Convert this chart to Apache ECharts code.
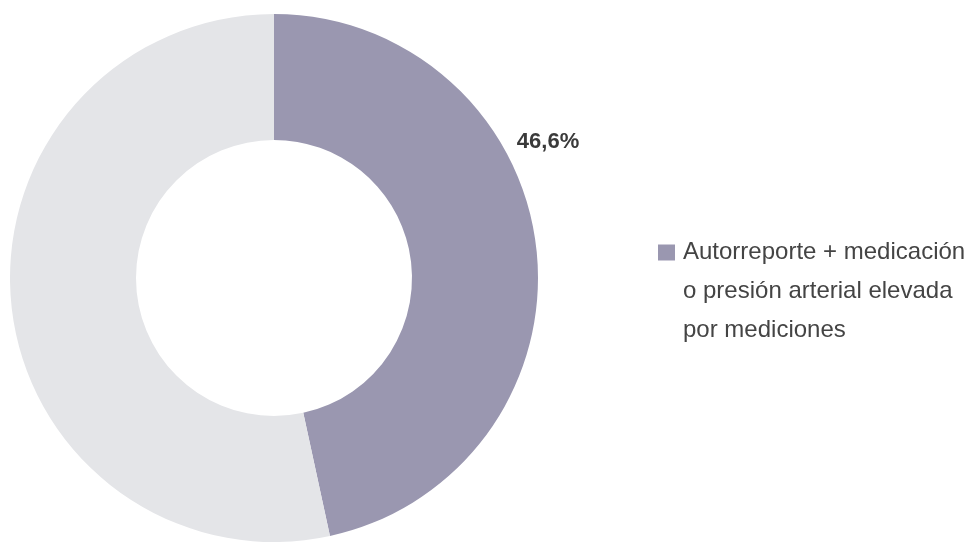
<!DOCTYPE html>
<html><head><meta charset="utf-8">
<script src="https://cdn.jsdelivr.net/npm/echarts@6/dist/echarts.min.js"></script>
<style>html,body{margin:0;padding:0;background:#fff}#c{width:974px;height:544px}</style>
</head><body><div id="c"></div>
<script>
const categories = ['Autorreporte + medicación\no presión arterial elevada\npor mediciones', 'Resto'];
const values = [46.6, 53.4];
const colors = ['#9a97b0', '#e4e5e8'];

const chart = echarts.init(document.getElementById('c'), null, {renderer: 'canvas'});
chart.setOption({
  animation: false,
  legend: {
    data: [categories[0]],
    orient: 'vertical',
    left: 658,
    top: 155,
    padding: 0,
    icon: 'rect',
    itemWidth: 17,
    itemHeight: 16,
    selectedMode: false,
    formatter: n => ' \n \n' + n,
    textStyle: {
      fontFamily: 'Liberation Sans, Arial, sans-serif',
      fontSize: 24,
      color: '#444',
      lineHeight: 39,
      padding: [0, 0, 0, 3]
    }
  },
  series: [{
    type: 'pie',
    center: [274, 278],
    radius: [138, 264],
    startAngle: 90,
    clockwise: true,
    silent: true,
    data: categories.map((n, i) => ({
      name: n, value: values[i],
      itemStyle: {color: colors[i]},
      label: {show: i === 0}
    })),
    label: {
      position: 'outside',
      formatter: p => p.value.toFixed(1).replace('.', ',') + '%',
      fontFamily: 'Liberation Sans, Arial, sans-serif',
      fontSize: 22,
      fontWeight: 'bold',
      color: '#3a3a3a'
    },
    labelLine: {show: false},
    labelLayout: p => p.dataIndex === 0 ? {x: 548, y: 142, align: 'center', verticalAlign: 'middle'} : {}
  }]
});
</script></body></html>
